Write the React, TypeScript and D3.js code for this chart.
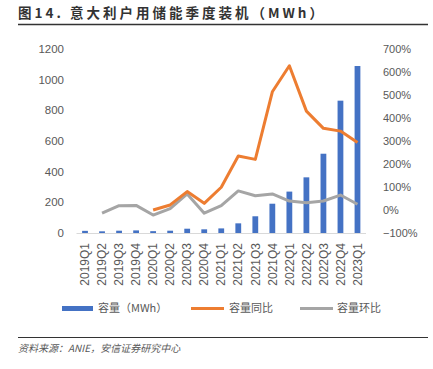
import * as d3 from 'd3';
import React, { useEffect, useRef } from 'react';

const quarters = [
  '2019Q1', '2019Q2', '2019Q3', '2019Q4', '2020Q1', '2020Q2', '2020Q3', '2020Q4',
  '2021Q1', '2021Q2', '2021Q3', '2021Q4', '2022Q1', '2022Q2', '2022Q3', '2022Q4', '2023Q1',
];
const capacity = [14, 11, 15, 17, 12, 15, 28, 24, 30, 63, 109, 191, 270, 363, 517, 863, 1089];
const yoy: (number | null)[] = [null, null, null, null, 0, 22, 80, 29, 99, 235, 220, 514, 627, 430, 355, 343, 294];
const qoq: (number | null)[] = [null, -14, 19, 20, -22, 6, 70, -14, 19, 83, 62, 70, 39, 32, 39, 65, 25];
const leftTicks = [0, 200, 400, 600, 800, 1000, 1200];
const rightTicks = [-100, 0, 100, 200, 300, 400, 500, 600, 700];

const FONT = '"Noto Sans CJK SC", "Noto Sans", sans-serif';
const NUM_FONT = '"Liberation Sans", Arial, sans-serif';

const App: React.FC = () => {
  const ref = useRef<SVGSVGElement | null>(null);

  useEffect(() => {
    const width = 433;
    const height = 369;
    const svg = d3.select(ref.current).attr('width', width).attr('height', height);
    svg.selectAll('*').remove();

    const left = 76.5, right = 366, top = 49, bottom = 233;

    const x = d3.scaleBand<string>().domain(quarters).range([left, right]).paddingInner(0.66).paddingOuter(0.33);
    const yL = d3.scaleLinear().domain([0, 1200]).range([bottom, top]);
    const yR = d3.scaleLinear().domain([-100, 700]).range([bottom, top]);

    // title
    svg.append('text').attr('x', 18).attr('y', 17.5).attr('font-family', FONT)
      .attr('font-size', 13.5).attr('font-weight', 600).attr('letter-spacing', 3).attr('fill', '#333')
      .text('图14. 意大利户用储能季度装机（MWh）');
    svg.append('line').attr('x1', 18).attr('x2', 428).attr('y1', 24.5).attr('y2', 24.5)
      .attr('stroke', '#333').attr('stroke-width', 1.5);

    // left axis labels
    svg.append('g').selectAll('text').data(leftTicks).enter().append('text')
      .attr('x', 64).attr('y', d => yL(d)).attr('dy', '0.35em').attr('text-anchor', 'end')
      .attr('font-family', NUM_FONT).attr('font-size', 11.5).attr('fill', '#595959').text(d => d);

    // right axis labels
    svg.append('g').selectAll('text').data(rightTicks).enter().append('text')
      .attr('x', 383).attr('y', d => yR(d)).attr('dy', '0.35em').attr('text-anchor', 'start')
      .attr('font-family', NUM_FONT).attr('font-size', 11).attr('fill', '#595959')
      .text(d => (d < 0 ? `\u2212${-d}%` : `${d}%`));

    // bars
    svg.append('g').selectAll('rect').data(capacity).enter().append('rect')
      .attr('x', (_d, i) => x(quarters[i])!)
      .attr('width', x.bandwidth())
      .attr('y', d => yL(d))
      .attr('height', d => yL(0) - yL(d))
      .attr('fill', '#4472C4');

    // baseline
    svg.append('line').attr('x1', left).attr('x2', right).attr('y1', bottom + 0.5).attr('y2', bottom + 0.5)
      .attr('stroke', '#D9D9D9').attr('stroke-width', 1);

    const cx = (i: number) => x(quarters[i])! + x.bandwidth() / 2;

    const drawLine = (vals: (number | null)[], color: string) => {
      const line = d3.line<number | null>()
        .defined(d => d !== null)
        .x((_d, i) => cx(i))
        .y(d => yR(d as number));
      svg.append('path').datum(vals).attr('d', line).attr('fill', 'none')
        .attr('stroke', color).attr('stroke-width', 3).attr('stroke-linejoin', 'round');
    };
    drawLine(qoq, '#A5A5A5');
    drawLine(yoy, '#ED7D31');

    // x labels
    svg.append('g').selectAll('text').data(quarters).enter().append('text')
      .attr('transform', d => `translate(${x(d)! + x.bandwidth() / 2},${bottom + 10}) rotate(-90)`)
      .attr('dy', '0.35em').attr('text-anchor', 'end')
      .attr('font-family', NUM_FONT).attr('font-size', 12).attr('fill', '#595959').text(d => d);

    // legend
    const lg = svg.append('g').attr('font-family', FONT).attr('font-size', 11).attr('fill', '#595959');
    lg.append('rect').attr('x', 62).attr('y', 306).attr('width', 31).attr('height', 5).attr('fill', '#4472C4');
    lg.append('text').attr('x', 98).attr('y', 308).attr('dy', '0.35em').text('容量（MWh）');
    lg.append('line').attr('x1', 191).attr('x2', 224).attr('y1', 308.5).attr('y2', 308.5)
      .attr('stroke', '#ED7D31').attr('stroke-width', 3);
    lg.append('text').attr('x', 229).attr('y', 308).attr('dy', '0.35em').text('容量同比');
    lg.append('line').attr('x1', 300).attr('x2', 333).attr('y1', 308.5).attr('y2', 308.5)
      .attr('stroke', '#A5A5A5').attr('stroke-width', 3);
    lg.append('text').attr('x', 337).attr('y', 308).attr('dy', '0.35em').text('容量环比');

    // source
    svg.append('line').attr('x1', 18).attr('x2', 428).attr('y1', 337.5).attr('y2', 337.5)
      .attr('stroke', '#333').attr('stroke-width', 1);
    svg.append('text').attr('x', 18).attr('y', 352).attr('font-family', FONT)
      .attr('font-size', 10).attr('font-style', 'italic').attr('fill', '#595959')
      .text('资料来源：ANIE，安信证券研究中心');
  }, []);

  return (
    <svg ref={ref} style={{ position: 'absolute', left: 0, top: 0 }}></svg>
  );
};

export default App;
